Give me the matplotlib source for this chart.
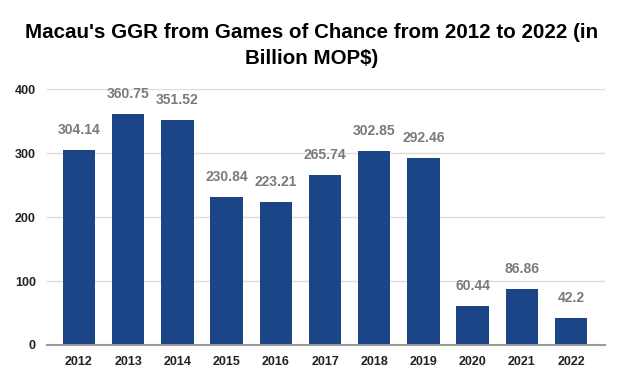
import matplotlib
matplotlib.use("Agg")
import matplotlib.pyplot as plt

years = ["2012", "2013", "2014", "2015", "2016", "2017", "2018", "2019", "2020", "2021", "2022"]
ggr = [304.14, 360.75, 351.52, 230.84, 223.21, 265.74, 302.85, 292.46, 60.44, 86.86, 42.2]
labels = ["304.14", "360.75", "351.52", "230.84", "223.21", "265.74", "302.85", "292.46", "60.44", "86.86", "42.2"]
yticks = [0, 100, 200, 300, 400]

plt.rcParams['font.family'] = ['Liberation Sans', 'DejaVu Sans']

fig = plt.figure(figsize=(6.24, 3.85), dpi=100)
ax = fig.add_axes([0.0753, 0.1039, 0.8943, 0.6649])

x = list(range(len(years)))
ax.bar(x, ggr, width=0.66, color="#1c4587", zorder=3)
for xi, v, lab in zip(x, ggr, labels):
    ax.annotate(lab, (xi, v), xytext=(0, 14.5), textcoords="offset points",
                ha="center", va="center", fontsize=10, fontweight="bold", color="#7a7a7a")

ax.set_xlim(-0.65, 10.69)
ax.set_ylim(0, 400)
ax.set_xticks(x)
ax.set_xticklabels(years, fontsize=9, fontweight="bold", color="#222222")
ax.set_yticks(yticks)
ax.set_yticklabels([str(t) for t in yticks], fontsize=9, fontweight="bold", color="#222222")
ax.tick_params(axis="both", length=0)
ax.tick_params(axis="x", pad=8)
ax.tick_params(axis="y", pad=8)
ax.grid(axis="y", color="#dddddd", linewidth=1, zorder=0)
for s in ["top", "right", "left"]:
    ax.spines[s].set_visible(False)
ax.spines["bottom"].set_color("#999999")
ax.spines["bottom"].set_linewidth(1.5)
ax.spines["bottom"].set_zorder(4)

fig.suptitle("Macau's GGR from Games of Chance from 2012 to 2022 (in\nBillion MOP$)",
             x=0.5, y=0.94, fontsize=14.75, fontweight="bold", linespacing=1.45, va="top")

fig.savefig("out.png", dpi=100, facecolor="white")
